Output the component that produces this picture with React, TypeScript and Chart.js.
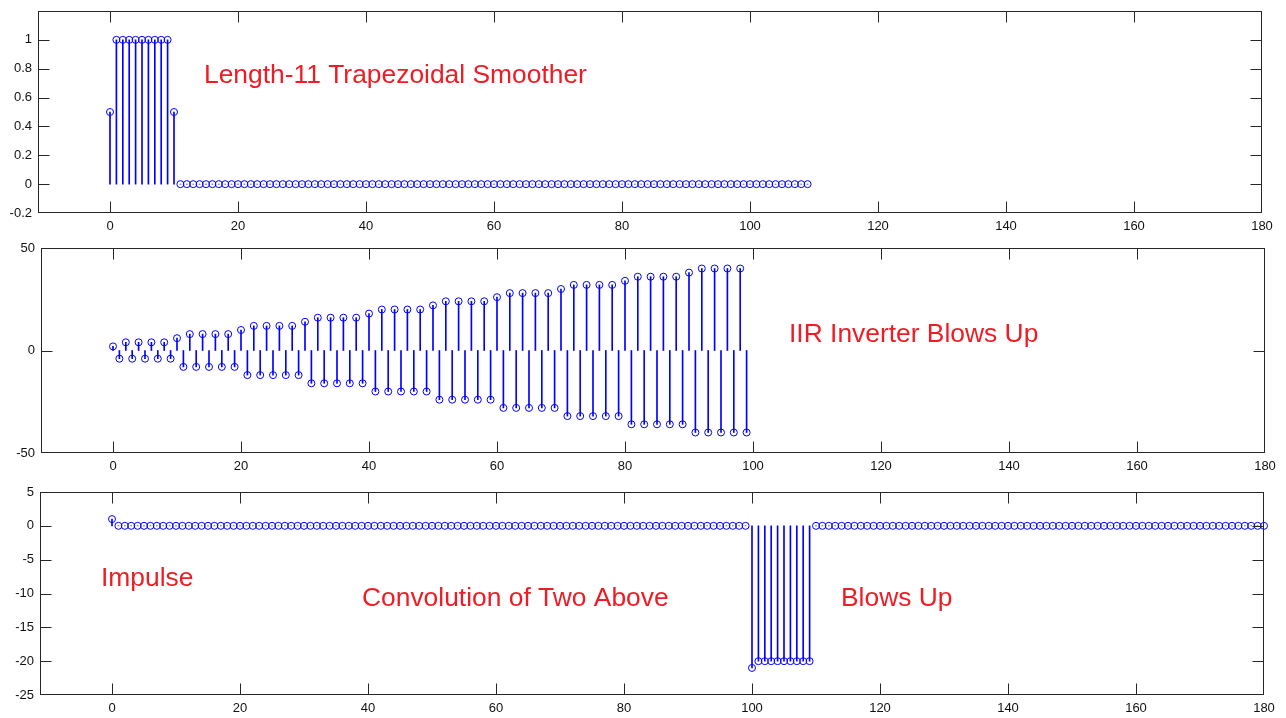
import React, { useEffect, useRef } from 'react';
import { Chart, registerables } from 'chart.js';

Chart.register(...registerables);

const FONT = '"Liberation Sans", Arial, Helvetica, sans-serif';
const BLUE = '#0000ff';
const RED = '#ee1c24';

// ---------- data ----------
const xTicks = [0, 20, 40, 60, 80, 100, 120, 140, 160, 180];
const xMin = -11.25;
const xMax = 180;

// Length-11 trapezoidal smoother (n = 0..109)
const smoother = [
  0.5, 1, 1, 1, 1, 1, 1, 1, 1, 1,
  0.5, 0, 0, 0, 0, 0, 0, 0, 0, 0,
  0, 0, 0, 0, 0, 0, 0, 0, 0, 0,
  0, 0, 0, 0, 0, 0, 0, 0, 0, 0,
  0, 0, 0, 0, 0, 0, 0, 0, 0, 0,
  0, 0, 0, 0, 0, 0, 0, 0, 0, 0,
  0, 0, 0, 0, 0, 0, 0, 0, 0, 0,
  0, 0, 0, 0, 0, 0, 0, 0, 0, 0,
  0, 0, 0, 0, 0, 0, 0, 0, 0, 0,
  0, 0, 0, 0, 0, 0, 0, 0, 0, 0,
  0, 0, 0, 0, 0, 0, 0, 0, 0, 0,
];
const smootherYTicks = [-0.2, 0, 0.2, 0.4, 0.6, 0.8, 1];

// IIR inverter (n = 0..99)
const inverter = [
  2, -4, 4, -4, 4, -4, 4, -4, 4, -4,
  6, -8, 8, -8, 8, -8, 8, -8, 8, -8,
  10, -12, 12, -12, 12, -12, 12, -12, 12, -12,
  14, -16, 16, -16, 16, -16, 16, -16, 16, -16,
  18, -20, 20, -20, 20, -20, 20, -20, 20, -20,
  22, -24, 24, -24, 24, -24, 24, -24, 24, -24,
  26, -28, 28, -28, 28, -28, 28, -28, 28, -28,
  30, -32, 32, -32, 32, -32, 32, -32, 32, -32,
  34, -36, 36, -36, 36, -36, 36, -36, 36, -36,
  38, -40, 40, -40, 40, -40, 40, -40, 40, -40,
];
const inverterYTicks = [-50, 0, 50];

// Convolution of the two above (n = 0..180)
const convolution = [
  1, 0, 0, 0, 0, 0, 0, 0, 0, 0,
  0, 0, 0, 0, 0, 0, 0, 0, 0, 0,
  0, 0, 0, 0, 0, 0, 0, 0, 0, 0,
  0, 0, 0, 0, 0, 0, 0, 0, 0, 0,
  0, 0, 0, 0, 0, 0, 0, 0, 0, 0,
  0, 0, 0, 0, 0, 0, 0, 0, 0, 0,
  0, 0, 0, 0, 0, 0, 0, 0, 0, 0,
  0, 0, 0, 0, 0, 0, 0, 0, 0, 0,
  0, 0, 0, 0, 0, 0, 0, 0, 0, 0,
  0, 0, 0, 0, 0, 0, 0, 0, 0, 0,
  -21, -20, -20, -20, -20, -20, -20, -20, -20, -20,
  0, 0, 0, 0, 0, 0, 0, 0, 0, 0,
  0, 0, 0, 0, 0, 0, 0, 0, 0, 0,
  0, 0, 0, 0, 0, 0, 0, 0, 0, 0,
  0, 0, 0, 0, 0, 0, 0, 0, 0, 0,
  0, 0, 0, 0, 0, 0, 0, 0, 0, 0,
  0, 0, 0, 0, 0, 0, 0, 0, 0, 0,
  0, 0, 0, 0, 0, 0, 0, 0, 0, 0,
  0,
];
const convolutionYTicks = [-25, -20, -15, -10, -5, 0, 5];

type Note = { text: string; x: number; y: number };

type PanelProps = {
  top: number;
  height: number;
  area: { left: number; right: number; top: number; bottom: number };
  values: number[];
  yMin: number;
  yMax: number;
  yTicks: number[];
  notes: Note[];
};

function Panel({ top, height, area, values, yMin, yMax, yTicks, notes }: PanelProps) {
  const ref = useRef<HTMLCanvasElement>(null);

  useEffect(() => {
    const canvas = ref.current;
    if (!canvas) return;
    const pts = values.map((v, i) => ({ x: i, y: v }));

    const boxPlugin = {
      id: 'matlabBox',
      afterDraw(chart: any) {
        const { ctx, chartArea: a, scales } = chart;
        const xs = scales.x;
        const ys = scales.y;
        const L = Math.round(a.left) + 0.5;
        const R = Math.round(a.right) - 0.5;
        const T = Math.round(a.top) + 0.5;
        const B = Math.round(a.bottom) - 0.5;
        const tl = 11;
        ctx.save();
        ctx.strokeStyle = '#262626';
        ctx.lineWidth = 1;
        ctx.beginPath();
        xTicks.forEach((v) => {
          const px = Math.round(xs.getPixelForValue(v)) + 0.5;
          if (px <= L + 1.5 || px >= R - 1.5) return;
          ctx.moveTo(px, B);
          ctx.lineTo(px, B - tl);
          ctx.moveTo(px, T);
          ctx.lineTo(px, T + tl);
        });
        yTicks.forEach((v) => {
          const py = Math.round(ys.getPixelForValue(v)) + 0.5;
          if (py <= T + 1.5 || py >= B - 1.5) return;
          ctx.moveTo(L, py);
          ctx.lineTo(L + tl, py);
          ctx.moveTo(R, py);
          ctx.lineTo(R - tl, py);
        });
        ctx.stroke();
        ctx.strokeRect(L, T, R - L, B - T);
        // annotations
        ctx.fillStyle = RED;
        ctx.font = `26.4px ${FONT}`;
        ctx.textBaseline = 'alphabetic';
        ctx.textAlign = 'left';
        notes.forEach((n) => ctx.fillText(n.text, n.x, n.y - top));
        ctx.restore();
      },
    };

    const chart = new Chart(canvas, {
      type: 'scatter',
      data: {
        datasets: [
          {
            type: 'line',
            data: pts,
            showLine: false,
            pointStyle: 'circle',
            pointRadius: 3.5,
            pointBorderWidth: 1,
            pointBorderColor: BLUE,
            pointBackgroundColor: 'rgba(0,0,0,0)',
            clip: false,
            order: 0,
          } as any,
          {
            type: 'bar',
            data: pts,
            backgroundColor: BLUE,
            borderWidth: 0,
            barThickness: 1,
            order: 1,
          } as any,
        ],
      },
      options: {
        responsive: false,
        animation: false,
        events: [],
        layout: {
          padding: { left: 0, right: 1286 - area.right, top: area.top - top, bottom: 0 },
        },
        plugins: { legend: { display: false }, tooltip: { enabled: false } },
        scales: {
          x: {
            type: 'linear',
            min: xMin,
            max: xMax,
            offset: false,
            grid: { display: false, drawTicks: false, offset: false },
            border: { display: false },
            afterBuildTicks: (scale: any) => {
              scale.ticks = xTicks.map((v) => ({ value: v }));
            },
            afterFit: (scale: any) => {
              scale.height = top + height - area.bottom;
            },
            ticks: {
              padding: 6,
              maxRotation: 0,
              autoSkip: false,
              color: '#111',
              font: { family: FONT, size: 13 },
              callback: (v: any) => String(v),
            },
          },
          y: {
            type: 'linear',
            min: yMin,
            max: yMax,
            grid: { display: false, drawTicks: false },
            border: { display: false },
            afterBuildTicks: (scale: any) => {
              scale.ticks = yTicks.map((v) => ({ value: v }));
            },
            afterFit: (scale: any) => {
              scale.width = area.left;
            },
            ticks: {
              padding: 6,
              autoSkip: false,
              color: '#111',
              font: { family: FONT, size: 13 },
              callback: (v: any) => String(v),
            },
          },
        },
      } as any,
      plugins: [boxPlugin],
    });
    return () => chart.destroy();
  }, []);

  return (
    <canvas
      ref={ref}
      width={1286}
      height={height}
      style={{ position: 'absolute', left: 0, top, width: 1286, height, display: 'block' }}
    />
  );
}

export default function App() {
  return (
    <div
      style={{
        position: 'absolute',
        left: 0,
        top: 0,
        width: 1286,
        height: 718,
        background: '#ffffff',
        overflow: 'hidden',
      }}
    >
      <Panel
        top={-20}
        height={260}
        area={{ left: 38, right: 1262, top: 11, bottom: 213 }}
        values={smoother}
        yMin={-0.2}
        yMax={1.2}
        yTicks={smootherYTicks}
        notes={[{ text: 'Length-11 Trapezoidal Smoother', x: 204, y: 83 }]}
      />
      <Panel
        top={220}
        height={260}
        area={{ left: 41, right: 1265, top: 248, bottom: 453 }}
        values={inverter}
        yMin={-50}
        yMax={50}
        yTicks={inverterYTicks}
        notes={[{ text: 'IIR Inverter Blows Up', x: 789, y: 342 }]}
      />
      <Panel
        top={460}
        height={258}
        area={{ left: 40, right: 1264, top: 492, bottom: 695 }}
        values={convolution}
        yMin={-25}
        yMax={5}
        yTicks={convolutionYTicks}
        notes={[
          { text: 'Impulse', x: 101, y: 586 },
          { text: 'Convolution of Two Above', x: 362, y: 606 },
          { text: 'Blows Up', x: 841, y: 606 },
        ]}
      />
    </div>
  );
}
